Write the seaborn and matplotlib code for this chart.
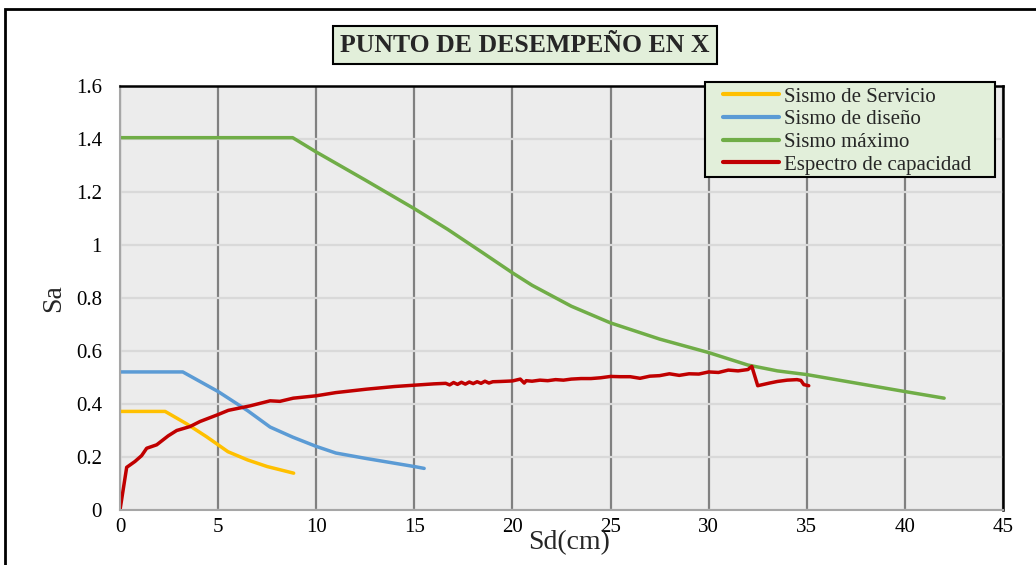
import matplotlib
matplotlib.use("Agg")
import matplotlib.pyplot as plt
import seaborn as sns
import pandas as pd
from matplotlib.patches import Rectangle
from matplotlib.ticker import FixedLocator, FixedFormatter

# ---------------- data ----------------
servicio_x = [0, 2.3, 3.4, 4.4, 5.0, 5.5, 6.5, 7.5, 8.85]
servicio_y = [0.372, 0.372, 0.325, 0.277, 0.246, 0.220, 0.189, 0.164, 0.139]

diseno_x = [0, 3.2, 5.0, 6.5, 7.65, 8.8, 10, 11, 12.5, 15, 15.5]
diseno_y = [0.521, 0.521, 0.447, 0.375, 0.313, 0.275, 0.240, 0.215, 0.195, 0.164, 0.157]

maximo_x = [0, 8.8, 10, 12.5, 15, 16.7, 18.5, 20, 21, 23, 25, 27.5, 30, 32, 33.5, 35, 37.5, 40, 42]
maximo_y = [1.405, 1.405, 1.351, 1.245, 1.137, 1.059, 0.970, 0.895, 0.848, 0.769, 0.706,
            0.645, 0.594, 0.547, 0.525, 0.511, 0.479, 0.447, 0.422]

capacidad_x = [0, 0.34, 0.76, 1.1, 1.36, 1.87, 2.46, 2.89, 3.57, 4.08, 4.96, 5.52, 6.63, 7.65,
               8.15, 8.83, 10, 11, 12.57, 14, 15, 16, 16.6, 16.8, 17.0, 17.2, 17.4, 17.6, 17.8,
               18.0, 18.2, 18.4, 18.6, 18.8, 19.0, 19.4, 20.0, 20.4, 20.6, 20.7, 21.0, 21.4,
               21.8, 22.2, 22.6, 23.0, 23.5, 24.0, 24.5, 25.0, 25.5, 26.0, 26.5, 27.0, 27.5,
               28.0, 28.5, 29.0, 29.5, 30.0, 30.5, 31.0, 31.5, 32.0, 32.2, 32.5, 32.8, 33.1,
               33.5, 34.0, 34.5, 34.7, 34.85, 35.1]
capacidad_y = [0, 0.161, 0.183, 0.205, 0.233, 0.246, 0.280, 0.300, 0.315, 0.334, 0.359, 0.376,
               0.393, 0.412, 0.410, 0.422, 0.431, 0.443, 0.456, 0.466, 0.471, 0.476, 0.478,
               0.472, 0.481, 0.474, 0.482, 0.475, 0.483, 0.477, 0.484, 0.478, 0.486, 0.479,
               0.484, 0.485, 0.487, 0.494, 0.479, 0.488, 0.486, 0.490, 0.488, 0.492, 0.490,
               0.494, 0.496, 0.496, 0.499, 0.504, 0.503, 0.503, 0.497, 0.505, 0.507, 0.514,
               0.508, 0.514, 0.513, 0.521, 0.519, 0.528, 0.525, 0.530, 0.542, 0.469, 0.474,
               0.479, 0.485, 0.490, 0.492, 0.489, 0.473, 0.469]

series_names = ["Sismo de Servicio", "Sismo de diseño", "Sismo máximo", "Espectro de capacidad"]
series_colors = ["#FFC000", "#5B9BD5", "#70AD47", "#C00000"]

x_ticks = [0, 5, 10, 15, 20, 25, 30, 35, 40, 45]
x_tick_labels = ["0", "5", "10", "15", "20", "25", "30", "35", "40", "45"]
y_ticks = [0, 0.2, 0.4, 0.6, 0.8, 1.0, 1.2, 1.4, 1.6]
y_tick_labels = ["0", "0.2", "0.4", "0.6", "0.8", "1", "1.2", "1.4", "1.6"]

title_text = "PUNTO DE DESEMPEÑO EN X"
x_label = "Sd(cm)"
y_label = "Sa"

# ---------------- build frame ----------------
frames = []
for name, xs, ys in zip(series_names,
                        [servicio_x, diseno_x, maximo_x, capacidad_x],
                        [servicio_y, diseno_y, maximo_y, capacidad_y]):
    frames.append(pd.DataFrame({"Sd": xs, "Sa": ys, "serie": name}))
df = pd.concat(frames, ignore_index=True)

# ---------------- style ----------------
sns.set_style("white")
plt.rcParams["font.family"] = ["Liberation Serif", "DejaVu Serif"]

W, H = 1036, 565
fig = plt.figure(figsize=(W / 100, H / 100), dpi=100)
ax = fig.add_axes([120 / W, 1 - 510 / H, 883 / W, 424 / H])
ax.set_facecolor("#ECECEC")

for name, color in zip(series_names, series_colors):
    sub = df[df["serie"] == name]
    sns.lineplot(data=sub, x="Sd", y="Sa", ax=ax, color=color, linewidth=2.5,
                 label=name, sort=False, estimator=None, solid_capstyle="round")

ax.set_xlim(0, 45)
ax.set_ylim(0, 1.6)
ax.xaxis.set_major_locator(FixedLocator(x_ticks))
ax.xaxis.set_major_formatter(FixedFormatter(x_tick_labels))
ax.yaxis.set_major_locator(FixedLocator(y_ticks))
ax.yaxis.set_major_formatter(FixedFormatter(y_tick_labels))

ax.set_axisbelow(True)
ax.xaxis.grid(True, color="#808080", linewidth=1.6)
ax.yaxis.grid(True, color="#D9D9D9", linewidth=1.6)

for side in ["top", "right"]:
    ax.spines[side].set_color("black")
    ax.spines[side].set_linewidth(1.8)
for side in ["left", "bottom"]:
    ax.spines[side].set_color("#A6A6A6")
    ax.spines[side].set_linewidth(1.5)

ax.tick_params(axis="both", direction="out", length=5, width=1.2, color="#A6A6A6",
               labelsize=15, labelcolor="black")
ax.tick_params(axis="x", pad=1)
ax.tick_params(axis="y", pad=8)

ax.set_xlabel("")
ax.set_ylabel("")
fig.text(569 / W, 1 - 543 / H, x_label, fontsize=20, ha="center", va="center")
fig.text(54 / W, 1 - 298 / H, y_label, fontsize=20, ha="center", va="center", rotation=90)

# title in box
fig.text(525 / W, 1 - 45 / H, title_text, fontsize=18.5, fontweight="bold",
         ha="center", va="center",
         bbox=dict(boxstyle="square,pad=0.3", facecolor="#E2EFDA", edgecolor="black",
                   linewidth=1.5))

# legend box (drawn as a separate rectangle) and legend entries
legend_box = Rectangle((705 / W, 1 - 177 / H), 290 / W, 95 / H, transform=fig.transFigure,
                       facecolor="#E2EFDA", edgecolor="black", linewidth=1.5,
                       clip_on=False, zorder=4)
ax.add_patch(legend_box)
leg = ax.legend(loc="upper left", bbox_to_anchor=(723 / W, 1 - 87 / H),
                bbox_transform=fig.transFigure, borderaxespad=0, fontsize=15,
                frameon=False, handlelength=2.7, handletextpad=0.25,
                labelspacing=0.15, borderpad=0)
leg.set_zorder(5)
for line in leg.get_lines():
    line.set_linewidth(3)

# outer border of the chart area
fig.patches.append(Rectangle((5 / W, -0.05), 1.1, 1 - 9 / H + 0.05, transform=fig.transFigure,
                             fill=False, edgecolor="black", linewidth=2))

fig.savefig("out.png", dpi=100)
